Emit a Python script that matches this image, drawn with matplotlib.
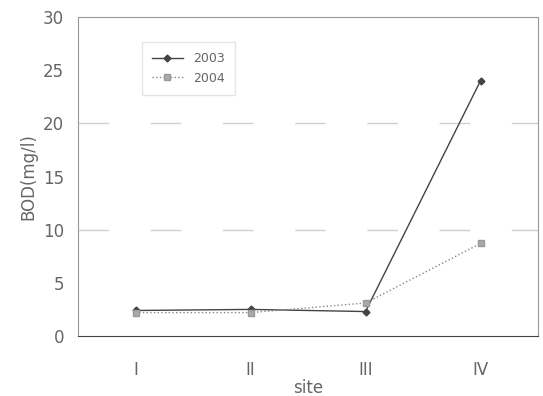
import matplotlib.pyplot as plt
import numpy as np

sites = ["I", "II", "III", "IV"]
bod_2003 = [2.4, 2.5, 2.3, 24.0]
bod_2004 = [2.2, 2.2, 3.1, 8.7]

fig = plt.figure(figsize=(5.43, 3.96), dpi=100)
ax = fig.add_axes([78 / 543, 60 / 396, 460 / 543, 319 / 396])

x = np.arange(len(sites)) + 0.5
ax.plot(x, bod_2003, color="#444444", lw=1, marker="D", ms=3.5, label="2003")
ax.plot(x, bod_2004, color="#888888", lw=1, ls=":", marker="s", ms=4.5,
        markerfacecolor="#aaaaaa", markeredgecolor="#999999", label="2004")

ax.set_xlim(0, 4)
ax.set_ylim(0, 30)
ax.set_xticks(x)
ax.set_xticklabels(sites)
ax.set_yticks(range(0, 31, 5))
ax.tick_params(length=0, labelsize=12, labelcolor="#666666", pad=10)
ax.tick_params(axis="x", pad=18)

for v in (10, 20):
    ax.axhline(v, color="#d0d0d0", lw=1, ls=(0, (22, 30)), zorder=0)

for s in ax.spines.values():
    s.set_color("#999999")
    s.set_linewidth(0.8)
ax.spines["bottom"].set_color("#444444")

ax.set_xlabel("site", fontsize=12, color="#666666", labelpad=0)
ax.set_ylabel("BOD(mg/l)", fontsize=12, color="#666666", labelpad=4)

leg = ax.legend(loc="upper left", bbox_to_anchor=(0.125, 0.94), fontsize=9,
                frameon=True, fancybox=False, edgecolor="#e0e0e0",
                handlelength=2.5, labelcolor="#666666", borderpad=0.8)

fig.savefig("out.png", dpi=100)
